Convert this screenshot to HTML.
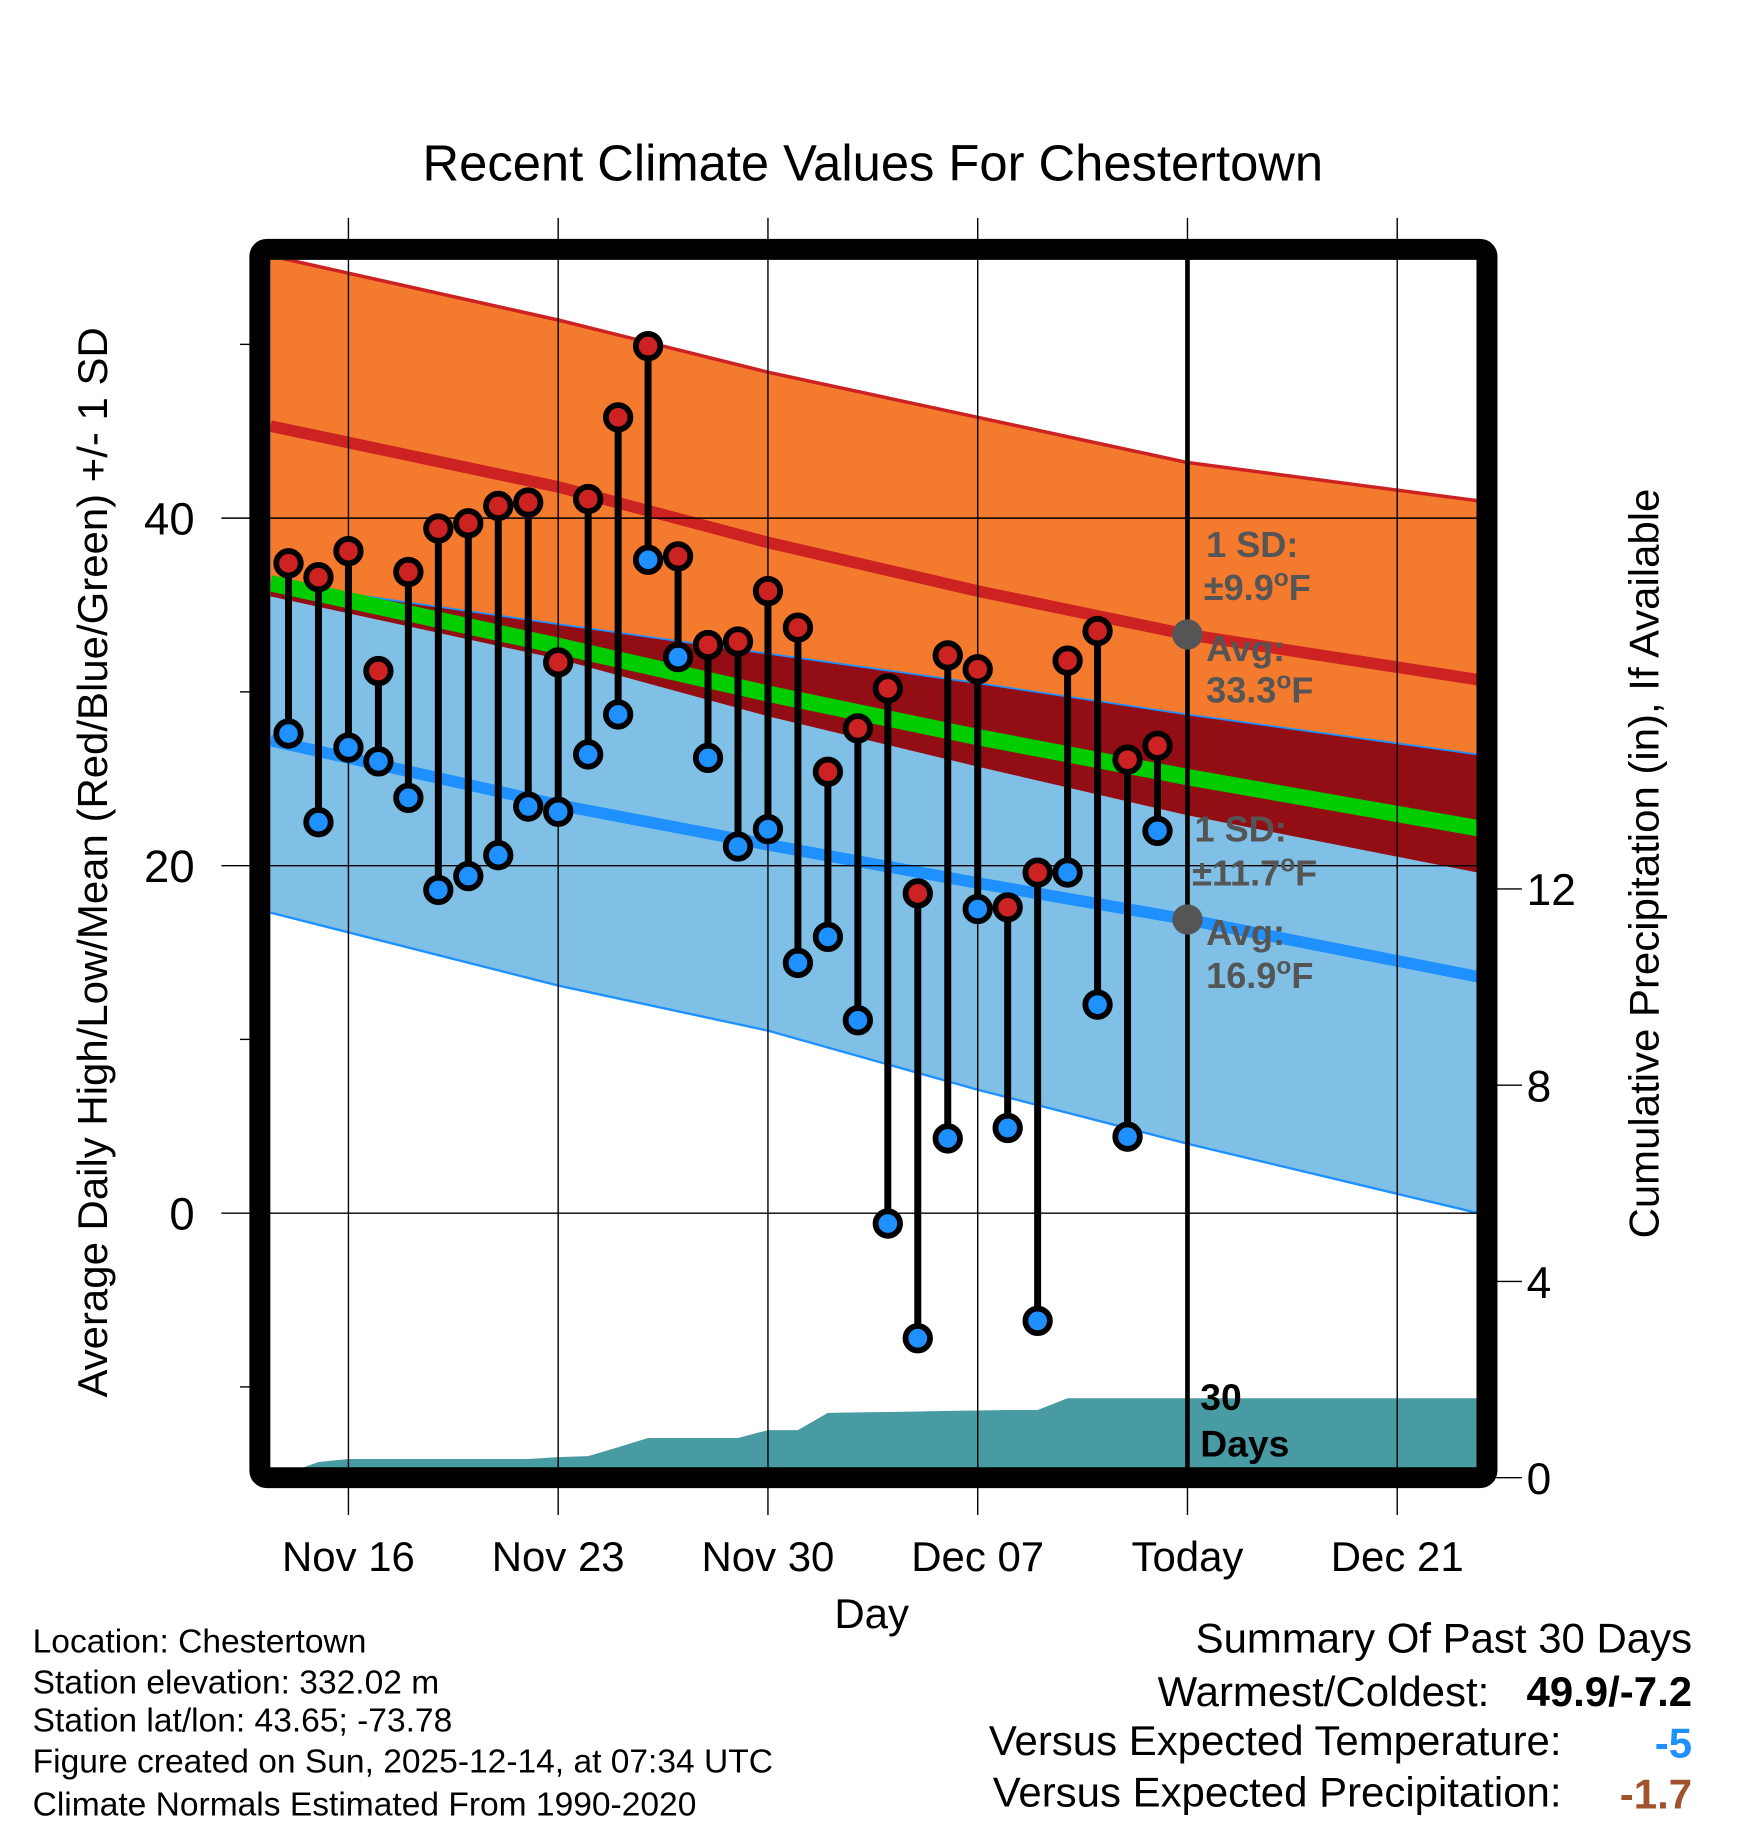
<!DOCTYPE html>
<html><head><meta charset="utf-8"><style>
html,body{margin:0;padding:0;background:#fff;}
svg{display:block;font-family:"Liberation Sans",Arial,sans-serif;}
</style></head><body>
<svg id="chart" width="1748" height="1828" viewBox="0 0 1500 1568.6" preserveAspectRatio="none" xmlns="http://www.w3.org/2000/svg">
<defs><clipPath id="plotclip"><rect x="232" y="223" width="1036" height="1037"/></clipPath></defs>
<g id="bands" clip-path="url(#plotclip)"></g>
<g id="precip" clip-path="url(#plotclip)"></g>
<g id="grid"></g>
<g id="marks"></g>
<g id="annot"></g>
<rect x="223" y="214" width="1053" height="1054" rx="6" fill="none" stroke="#000" stroke-width="18"/>
<text x="749" y="155" font-size="43.5" text-anchor="middle">Recent Climate Values For Chestertown</text>
<text transform="translate(92,740) rotate(-90)" font-size="36" text-anchor="middle">Average Daily High/Low/Mean (Red/Blue/Green) +/- 1 SD</text>
<text transform="translate(1423,741) rotate(-90)" font-size="36" text-anchor="middle">Cumulative Precipitation (in), If Available</text>
<text x="748" y="1397" font-size="36" text-anchor="middle">Day</text>
<g font-size="28.8">
<text x="28" y="1418">Location: Chestertown</text>
<text x="28" y="1453">Station elevation: 332.02 m</text>
<text x="28" y="1486">Station lat/lon: 43.65; -73.78</text>
<text x="28" y="1521">Figure created on Sun, 2025-12-14, at 07:34 UTC</text>
<text x="28" y="1558">Climate Normals Estimated From 1990-2020</text>
</g>
<g font-size="36">
<text x="1452" y="1418" text-anchor="end">Summary Of Past 30 Days</text>
<text x="1278" y="1464" text-anchor="end">Warmest/Coldest:</text>
<text x="1452" y="1464" text-anchor="end" font-weight="bold">49.9/-7.2</text>
<text x="1340" y="1506" text-anchor="end">Versus Expected Temperature:</text>
<text x="1452" y="1508" text-anchor="end" font-weight="bold" fill="#1e90ff">-5</text>
<text x="1340" y="1550" text-anchor="end">Versus Expected Precipitation:</text>
<text x="1452" y="1552" text-anchor="end" font-weight="bold" fill="#a0522d">-1.7</text>
</g>
</svg>
<script>
// ---- data ----
const dayLabels = ["Nov 16","Nov 23","Nov 30","Dec 07","Today","Dec 21"];
const dayTicks = [0,7,14,21,28,35];
const yTicks = [0,20,40];
const yMinor = [-10,10,30,50];
const precipTicks = [0,4,8,12];
const obsDays = [-2,-1,0,1,2,3,4,5,6,7,8,9,10,11,12,13,14,15,16,17,18,19,20,21,22,23,24,25,26,27];
const highs = [37.4,36.6,38.1,31.2,36.9,39.4,39.7,40.7,40.9,31.7,41.1,45.8,49.9,37.8,32.7,32.9,35.8,33.7,25.4,27.9,30.2,18.4,32.1,31.3,17.6,19.6,31.8,33.5,26.1,26.9];
const lows = [27.6,22.5,26.8,26.0,23.9,18.6,19.4,20.6,23.4,23.1,26.4,28.7,37.6,32.0,26.2,21.1,22.1,14.4,15.9,11.1,-0.6,-7.2,4.3,17.5,4.9,-6.2,19.6,12.0,4.4,22.0];
const precip = [0.10,0.32,0.38,0.38,0.38,0.38,0.38,0.38,0.38,0.42,0.44,0.62,0.81,0.81,0.81,0.81,0.97,0.97,1.32,1.33,1.34,1.35,1.36,1.37,1.38,1.38,1.62,1.62,1.62,1.62];
const normDays = [-2.6,7,14,21,28,37.7];
const highUpper = [55.1,51.4,48.4,45.8,43.2,41.0];
const highMean = [45.3,41.8,38.6,35.8,33.3,30.7];
const highLower = [35.5,31.9,28.6,25.7,22.9,19.6];
const lowUpper = [36.3,33.9,32.2,30.5,28.7,26.4];
const lowMean = [27.2,23.5,21.2,19.0,16.9,13.6];
const lowLower = [17.3,13.1,10.5,7.1,4.0,0.0];

// ---- scales ----
const X = d => 299 + d*25.714;
const Y = t => 1041 - t*14.91;
const P = p => 1268 - p*42.1;
const NS = "http://www.w3.org/2000/svg";
function mk(tag, attrs, parent){const e=document.createElementNS(NS,tag);for(const k in attrs)e.setAttribute(k,attrs[k]);parent.appendChild(e);return e;}
function pts(xs, ys){return xs.map((d,i)=>X(d).toFixed(1)+","+Y(ys[i]).toFixed(1));}

const bands=document.getElementById('bands');
const ov = normDays.map((d,i)=>Math.min(lowUpper[i],highUpper[i]));
let e;
e=mk('polygon',{points:pts(normDays,highUpper).concat(pts(normDays,highLower).reverse()).join(' '),fill:'#f47a2e'},bands);


e=mk('polygon',{points:pts(normDays,lowUpper).concat(pts(normDays,lowLower).reverse()).join(' '),fill:'#80c0e6'},bands);


e=mk('polygon',{points:pts(normDays,ov).concat(pts(normDays,highLower).reverse()).join(' '),fill:'#930d14'},bands);


e=mk('polyline',{points:pts(normDays,lowUpper).join(' '),fill:'none',stroke:'#1e90ff','stroke-width':1.5},bands);


e=mk('polyline',{points:pts(normDays,lowLower).join(' '),fill:'none',stroke:'#1e90ff','stroke-width':2},bands);


e=mk('polyline',{points:pts(normDays,highUpper).join(' '),fill:'none',stroke:'#cc2222','stroke-width':3},bands);


e=mk('polyline',{points:pts(normDays,highMean).join(' '),fill:'none',stroke:'#cc2222','stroke-width':10},bands);


const meanAvg = highMean.map((v,i)=>(v+lowMean[i])/2);
e=mk('polyline',{points:pts(normDays,meanAvg).join(' '),fill:'none',stroke:'#00cc00','stroke-width':14},bands);


e=mk('polyline',{points:pts(normDays,lowMean).join(' '),fill:'none',stroke:'#1e90ff','stroke-width':10},bands);



// precipitation
const pg=document.getElementById('precip');
let pp=[X(obsDays[0]).toFixed(1)+","+P(0)];
obsDays.forEach((d,i)=>pp.push(X(d).toFixed(1)+","+P(precip[i]).toFixed(1)));
pp.push("1270,"+P(precip[precip.length-1]).toFixed(1));
pp.push("1270,"+P(0));
e=mk('polygon',{points:pp.join(' '),fill:'#489ba3'},pg);



// grid and ticks
const grid=document.getElementById('grid');
dayTicks.forEach((d,i)=>{
  let l=mk('line',{x1:X(d),x2:X(d),y1:187,y2:1300,stroke:'#000','stroke-width':1.2},grid);
  
  
  let t=mk('text',{x:X(d),y:1348,'font-size':36,'text-anchor':'middle'},grid);
  t.textContent=dayLabels[i];
  
  
});
yTicks.forEach(v=>{
  let l=mk('line',{x1:190,x2:1268,y1:Y(v),y2:Y(v),stroke:'#000','stroke-width':1.2},grid);
  
  
  let t=mk('text',{x:167,y:Y(v)+14,'font-size':39,'text-anchor':'end'},grid);
  t.textContent=v;
  
  
});
yMinor.forEach(v=>{
  let l=mk('line',{x1:206,x2:216,y1:Y(v),y2:Y(v),stroke:'#000','stroke-width':1.2},grid);
  
  
});
precipTicks.forEach(v=>{
  let l=mk('line',{x1:1284,x2:1306,y1:P(v),y2:P(v),stroke:'#000','stroke-width':1.2},grid);
  
  
  let t=mk('text',{x:1310,y:P(v)+14,'font-size':38},grid);
  t.textContent=v;
  
  
});

// daily marks
const marks=document.getElementById('marks');
obsDays.forEach((d,i)=>{
  let s=mk('line',{x1:X(d),x2:X(d),y1:Y(highs[i]),y2:Y(lows[i]),stroke:'#000','stroke-width':6},marks);
  
  
});
obsDays.forEach((d,i)=>{
  let h=mk('circle',{cx:X(d),cy:Y(highs[i]),r:10.5,fill:'#cc2222',stroke:'#000','stroke-width':5},marks);
  
  
  let l=mk('circle',{cx:X(d),cy:Y(lows[i]),r:10.5,fill:'#1e90ff',stroke:'#000','stroke-width':5},marks);
  
  
});

// annotations
const an=document.getElementById('annot');
e=mk('line',{x1:X(28),x2:X(28),y1:223,y2:1260,stroke:'#000','stroke-width':4},an);


e=mk('circle',{cx:X(28),cy:Y(33.3),r:13,fill:'#555'},an);


e=mk('circle',{cx:X(28),cy:Y(16.9),r:13,fill:'#555'},an);


const notes=[["1 SD:",1035,478,""],["±9.9",1033,515,"F"],["Avg:",1035,567,""],["33.3",1035,603,"F"],["1 SD:",1025,722,""],["±11.7",1023,760,"F"],["Avg:",1035,811,""],["16.9",1035,848,"F"]];
notes.forEach(n=>{
  let t=mk('text',{x:n[1],y:n[2],'font-size':31,'font-weight':'bold',fill:'#555'},an);
  
  
  if(n[3]){
    t.appendChild(document.createTextNode(n[0]));
    const s=document.createElementNS(NS,'tspan');s.setAttribute('dy','-12');s.setAttribute('font-size','21');s.textContent='o';t.appendChild(s);
    const f=document.createElementNS(NS,'tspan');f.setAttribute('dy','12');f.textContent='F';t.appendChild(f);
  } else t.textContent=n[0];
});
e=mk('text',{x:1030,y:1210,'font-size':32,'font-weight':'bold'},an);
e.textContent="30";


e=mk('text',{x:1030,y:1250,'font-size':32,'font-weight':'bold'},an);
e.textContent="Days";


</script>
</body></html>
